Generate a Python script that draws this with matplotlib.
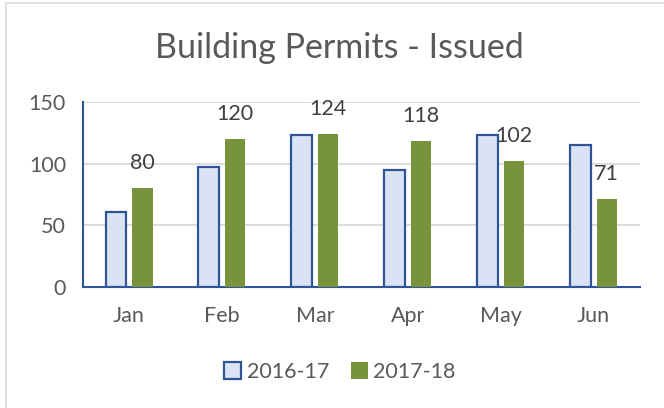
import numpy as np
import matplotlib
matplotlib.use("Agg")
import matplotlib.pyplot as plt
from matplotlib.patches import Rectangle

months = ["Jan", "Feb", "Mar", "Apr", "May", "Jun"]
permits_1617 = [61, 97, 123, 95, 123, 115]
permits_1718 = [80, 120, 124, 118, 102, 71]
series_names = ["2016-17", "2017-18"]

plt.rcParams["font.family"] = ["Lato", "DejaVu Sans"]
txt = "#595959"
fs = 15.5

fig = plt.figure(figsize=(6.64, 4.08), dpi=100)
W, H = 664, 408
# axes box in pixels: left 82.6, right 640, top(150) 102, bottom(0) 287
ax = fig.add_axes([82.6 / W, 1 - 287 / H, (640 - 82.6) / W, (287 - 102) / H])

x = np.arange(len(months))
bw = 0.22
gap = 0.065
off = (bw + gap) / 2
ax.bar(x - off, permits_1617, bw, color="#DAE3F3", edgecolor="#2F5597",
       linewidth=1.6, label=series_names[0], zorder=3)
b2 = ax.bar(x + off, permits_1718, bw, color="#77933C", edgecolor="#77933C",
            linewidth=0, label=series_names[1], zorder=3)

for rect, v in zip(b2, permits_1718):
    ax.annotate(str(v), (rect.get_x() + rect.get_width() / 2, v),
                xytext=(0, 18), textcoords="offset points",
                ha="center", va="center", fontsize=fs, color="#404040")

ax.set_xlim(-0.5, len(months) - 0.5)
ax.set_ylim(0, 150)
ax.set_yticks([0, 50, 100, 150])
ax.set_xticks(x)
ax.set_xticklabels(months)
ax.tick_params(length=0, labelsize=fs, colors=txt)
ax.tick_params(axis="x", pad=14)
ax.tick_params(axis="y", pad=12)
ax.yaxis.grid(True, color="#D9D9D9", linewidth=1.3, zorder=0)
ax.set_axisbelow(True)
for s in ["top", "right"]:
    ax.spines[s].set_visible(False)
for s in ["left", "bottom"]:
    ax.spines[s].set_color("#2F5597")
    ax.spines[s].set_linewidth(1.5)

fig.text(339 / W, 1 - 48 / H, "Building Permits - Issued", ha="center",
         va="center", fontsize=24.5, color=txt)

fig.legend(loc="center", bbox_to_anchor=(340 / W, 1 - 372 / H), ncol=2,
           frameon=False, fontsize=fs, handlelength=0.8, handleheight=0.8,
           handletextpad=0.25, columnspacing=1.0, labelcolor=txt)

fig.patches.append(Rectangle((6 / W, -0.1), 1.2, 1 - 3 / H + 0.1,
                             transform=fig.transFigure, fill=False,
                             edgecolor="#D9D9D9", linewidth=1.2))

fig.savefig("out.png", dpi=100)
